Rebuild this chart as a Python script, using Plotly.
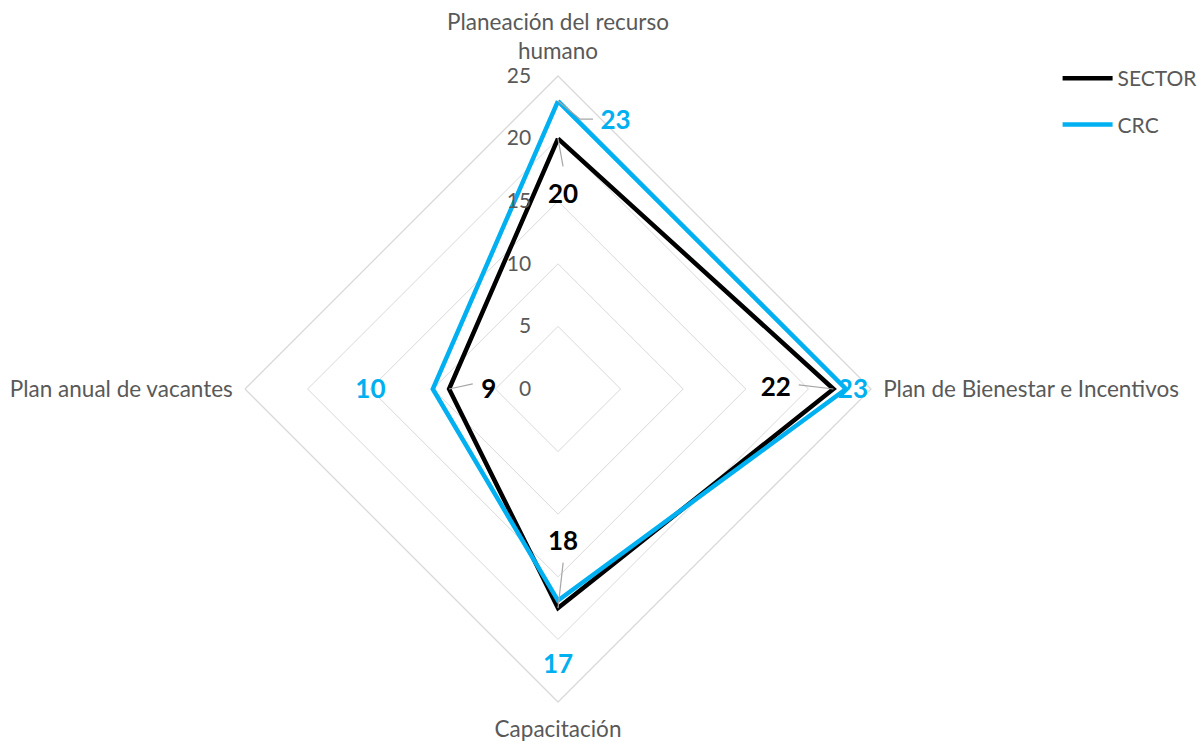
import plotly.graph_objects as go

# ---- data ----
categories = ["Planeación del recurso<br>humano", "Plan de Bienestar e Incentivos",
              "Capacitación", "Plan anual de vacantes"]
sector = [20, 22, 17.5, 8.7]
crc = [23, 23, 16.9, 10]
radial_ticks = [0, 5, 10, 15, 20, 25]

# ---- style / positions ----
BLACK = "#000000"
BLUE = "#00B0F0"
GRAY_TXT = "#595959"
GRID = "#D9D9D9"
FONT = "Lato"
cat_angles = [0, 90, 180, 270]  # clockwise from top

# data label placement: (r offset from value, angle offset in deg)
sector_lbl_off = [(-4.61, 1.5), (-4.6, 0.03), (-5.16, -1.9), (-3.17, -1.66)]
crc_lbl_off = [(-1.26, 12.2), (0.56, 0.39), (5.29, 0), (4.98, -0.61)]
# leader lines: list of (r offset, angle offset) points after the data point
sector_leaders = [[(-2.21, 1.3)], [(-2.77, -1.0)], [(-3.63, -1.7)], [(-1.88, 3.4)]]
crc_leaders = [[(-1.37, 4.7), (-1.26, 7.4)], None, None, None]

fig = go.Figure()

for name, vals, col in [("SECTOR", sector, BLACK), ("CRC", crc, BLUE)]:
    fig.add_trace(go.Scatterpolar(
        r=vals + [vals[0]], theta=categories + [categories[0]],
        mode="lines", name=name, line=dict(color=col, width=4.5),
        subplot="polar", legendgroup=name, hoverinfo="skip"))

# leader lines on overlay polar
for vals, leaders in [(sector, sector_leaders), (crc, crc_leaders)]:
    for v, a, ld in zip(vals, cat_angles, leaders):
        if not ld:
            continue
        rr = [v] + [v + dr for dr, da in ld]
        tt = [a] + [a + da for dr, da in ld]
        fig.add_trace(go.Scatterpolar(
            r=rr, theta=tt, mode="lines", line=dict(color="#A6A6A6", width=1.2),
            subplot="polar2", showlegend=False, hoverinfo="skip"))

# data labels on overlay polar (values shown rounded, like the source number format)
for vals, offs, col in [(sector, sector_lbl_off, BLACK), (crc, crc_lbl_off, BLUE)]:
    fig.add_trace(go.Scatterpolar(
        r=[v + dr for v, (dr, da) in zip(vals, offs)],
        theta=[a + da for a, (dr, da) in zip(cat_angles, offs)],
        mode="text", text=[f"<b>{v:.0f}</b>" for v in vals],
        textfont=dict(family=FONT, size=26, color=col),
        textposition="middle center",
        subplot="polar2", showlegend=False, hoverinfo="skip"))

W, H = 1199, 744
cx, cy, R = 558, 389, 313
dom_x = [(cx - R) / W, (cx + R) / W]
dom_y = [(H - cy - R) / H, (H - cy + R) / H]

fig.update_layout(
    width=W, height=H, margin=dict(l=0, r=0, t=0, b=0, autoexpand=False),
    paper_bgcolor="white", plot_bgcolor="white",
    font=dict(family=FONT, color=GRAY_TXT, size=21),
    polar=dict(
        domain=dict(x=dom_x, y=dom_y), gridshape="linear", bgcolor="rgba(0,0,0,0)",
        radialaxis=dict(range=[0, 25], tickvals=radial_ticks, angle=90, tickangle=90,
                        showline=False, ticks="outside", ticklen=19,
                        tickcolor="rgba(0,0,0,0)", side="counterclockwise",
                        gridcolor=GRID, gridwidth=1.3,
                        tickfont=dict(family=FONT, size=21, color=GRAY_TXT)),
        angularaxis=dict(rotation=90, direction="clockwise", showgrid=False,
                         showline=True, linecolor=GRID, linewidth=1.3,
                         ticks="outside", ticklen=7, tickcolor="rgba(0,0,0,0)",
                         tickfont=dict(family=FONT, size=22.5, color=GRAY_TXT)),
    ),
    polar2=dict(
        domain=dict(x=dom_x, y=dom_y), bgcolor="rgba(0,0,0,0)",
        radialaxis=dict(range=[0, 25], visible=False, showgrid=False),
        angularaxis=dict(type="linear", rotation=90, direction="clockwise",
                         thetaunit="degrees", visible=False, showgrid=False),
    ),
    legend=dict(x=1.003, y=0.922, xanchor="right", yanchor="top",
                font=dict(family=FONT, size=21, color=GRAY_TXT),
                itemwidth=50, tracegroupgap=16, bgcolor="rgba(0,0,0,0)"),
    showlegend=True,
)

fig.write_html("out.html", config={"displayModeBar": False},
               post_script="document.body.style.margin='0';")
